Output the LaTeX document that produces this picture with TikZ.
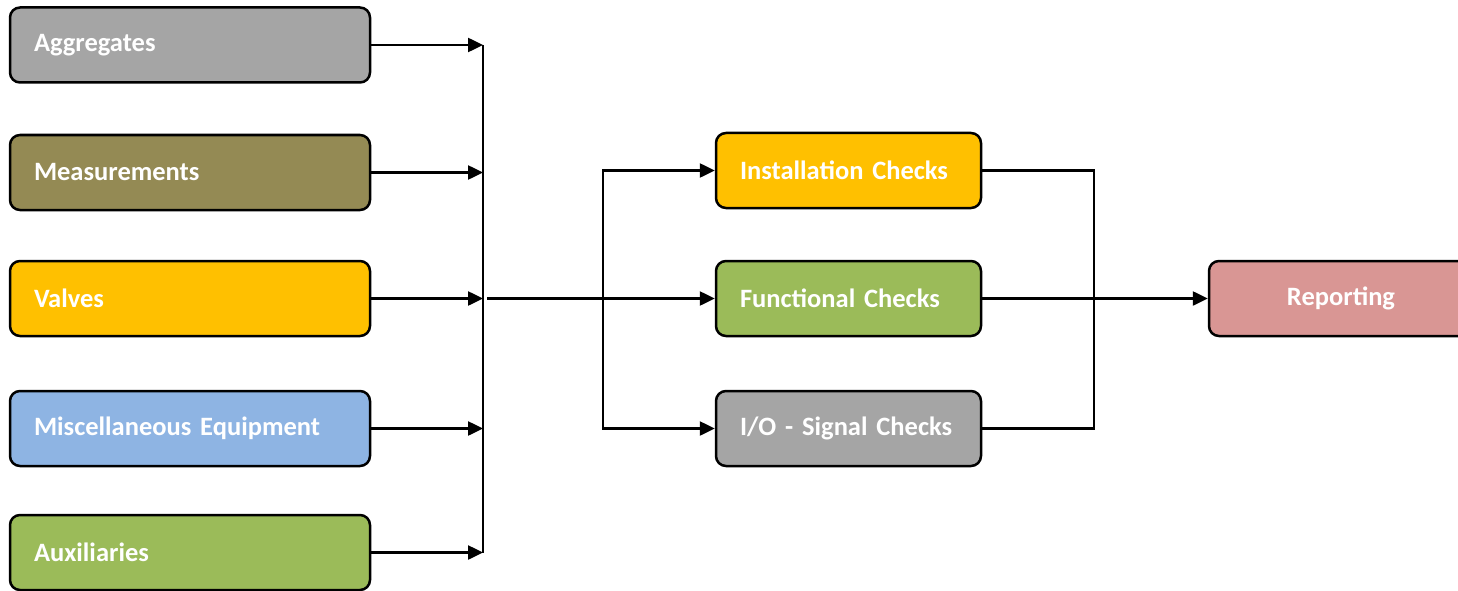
\documentclass[tikz,border=0pt]{standalone}
\usepackage{fontspec}
\setmainfont{Carlito}
\usetikzlibrary{arrows.meta,positioning}
\definecolor{griKutu}{HTML}{A5A5A5}
\definecolor{zeytin}{HTML}{948A54}
\definecolor{altin}{HTML}{FFC000}
\definecolor{maviKutu}{HTML}{8EB4E3}
\definecolor{yesilKutu}{HTML}{9BBB59}
\definecolor{pembe}{HTML}{D99694}
\begin{document}
\begin{tikzpicture}[x=1pt,y=-1pt, every node/.style={font=\fontsize{26.5}{30}\selectfont\bfseries,text=white},
  kutu/.style={draw=black,line width=2.5pt,rounded corners=10pt,minimum height=75pt,inner ysep=0pt},
  solKutu/.style={kutu,inner xsep=24pt,text width=312pt,align=left},
  ortaKutu/.style={kutu,inner xsep=24pt,text width=217pt,align=left},
  ok/.style={line width=2.5pt,-{Triangle[length=15pt,width=14pt]}},
  hat/.style={line width=2.5pt}]
\useasboundingbox (0,0) rectangle (1458,591);
\clip (0,0) rectangle (1458,591);
% inputs
\node[solKutu,fill=griKutu] (agg) at (190,45) {Aggregates};
\node[solKutu,fill=zeytin] (mea) at (190,172.5) {Measurements};
\node[solKutu,fill=altin] (val) at (190,298.5) {Valves};
\node[solKutu,fill=maviKutu] (misc) at (190,428.5) {Miscellaneous Equipment};
\node[solKutu,fill=yesilKutu] (aux) at (190,552.5) {Auxiliaries};
% checks
\node[ortaKutu,fill=altin] (ins) at (848.5,170.5) {Installation Checks};
\node[ortaKutu,fill=yesilKutu] (fun) at (848.5,298.5) {Functional Checks};
\node[ortaKutu,fill=griKutu] (io) at (848.5,428.5) {I/O - Signal Checks};
\node[kutu,fill=pembe,minimum width=264pt] (rep) at (1341,298.5) {Reporting};
\coordinate (bus1) at (483,0);
\coordinate (bus2) at (603,0);
\coordinate (bus3) at (1094,0);
\coordinate (cik) at (487,0);
\foreach \n in {agg,mea,val,misc,aux}
  \draw[ok] (\n.east) -- (\n.east -| bus1);
\draw[hat] (agg.east -| bus1) -- (aux.east -| bus1);
\draw[ok] (fun.west -| cik) -- (fun.west);
\draw[ok,{Triangle[length=15pt,width=14pt]}-{Triangle[length=15pt,width=14pt]}] (ins.west) -| (bus2 |- fun) |- (io.west);
\draw[hat] (ins.east) -| (bus3 |- fun) |- (io.east);
\draw[ok] (fun.east) -- (rep.west);
\end{tikzpicture}
\end{document}
